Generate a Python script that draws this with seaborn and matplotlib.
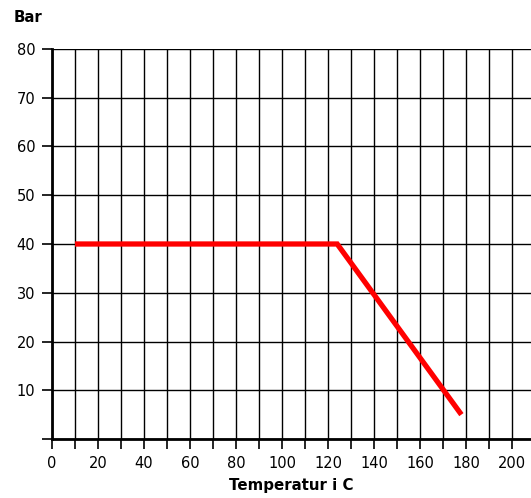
import matplotlib
matplotlib.use("Agg")
import matplotlib.pyplot as plt
import seaborn as sns
import pandas as pd
import numpy as np

temperature = [10, 124, 178]
pressure = [40, 40, 5]
x_ticks = list(range(0, 210, 10))
x_labels = [str(t) if t % 20 == 0 else "" for t in x_ticks]
y_ticks = list(range(0, 90, 10))
y_labels = [str(t) if t > 0 else "" for t in y_ticks]

sns.set_style("white")
plt.rcParams['font.family'] = ['DejaVu Sans']
plt.rcParams['font.sans-serif'] = ['DejaVu Sans']
plt.rcParams['text.color'] = 'black'
plt.rcParams['xtick.color'] = 'black'
plt.rcParams['ytick.color'] = 'black'
plt.rcParams['axes.labelcolor'] = 'black'

FONT = "DejaVu Sans"

fig = plt.figure(figsize=(5.31, 4.98), dpi=100)
ax = fig.add_axes([52/531, 1 - 439/498, (531 - 52)/531, (439 - 49)/498])

df = pd.DataFrame({"Temperatur": temperature, "Bar": pressure})
sns.lineplot(data=df, x="Temperatur", y="Bar", color="#ff0000", linewidth=3.8,
             ax=ax, zorder=5, sort=False)
ax.lines[0].set_solid_capstyle("butt")
ax.lines[0].set_solid_joinstyle("miter")

ax.set_xlim(0, (531 - 52) / 2.3)
ax.set_ylim(0, 80)
ax.set_xticks(x_ticks)
ax.set_xticklabels(x_labels, fontsize=10.5, family=FONT)
ax.set_yticks(y_ticks)
ax.set_yticklabels(y_labels, fontsize=10.5, family=FONT)
ax.tick_params(axis="both", which="major", bottom=True, left=True, direction="out",
               length=7, width=1.2, colors="black", pad=5)
ax.grid(True, color="black", linewidth=1.0)
ax.set_axisbelow(True)

for s in ["top", "right"]:
    ax.spines[s].set_visible(False)
for s in ["left", "bottom"]:
    ax.spines[s].set_linewidth(2)
    ax.spines[s].set_color("black")

ax.set_xlabel("Temperatur i C", fontsize=10.8, fontweight="bold", family=FONT,
              labelpad=5, color="black")
ax.set_ylabel("")
fig.text(14/531, 1 - 17/498, "Bar", fontsize=10.8, fontweight="bold", family=FONT,
         ha="left", va="center", color="black")

fig.savefig("out.png", dpi=100)
